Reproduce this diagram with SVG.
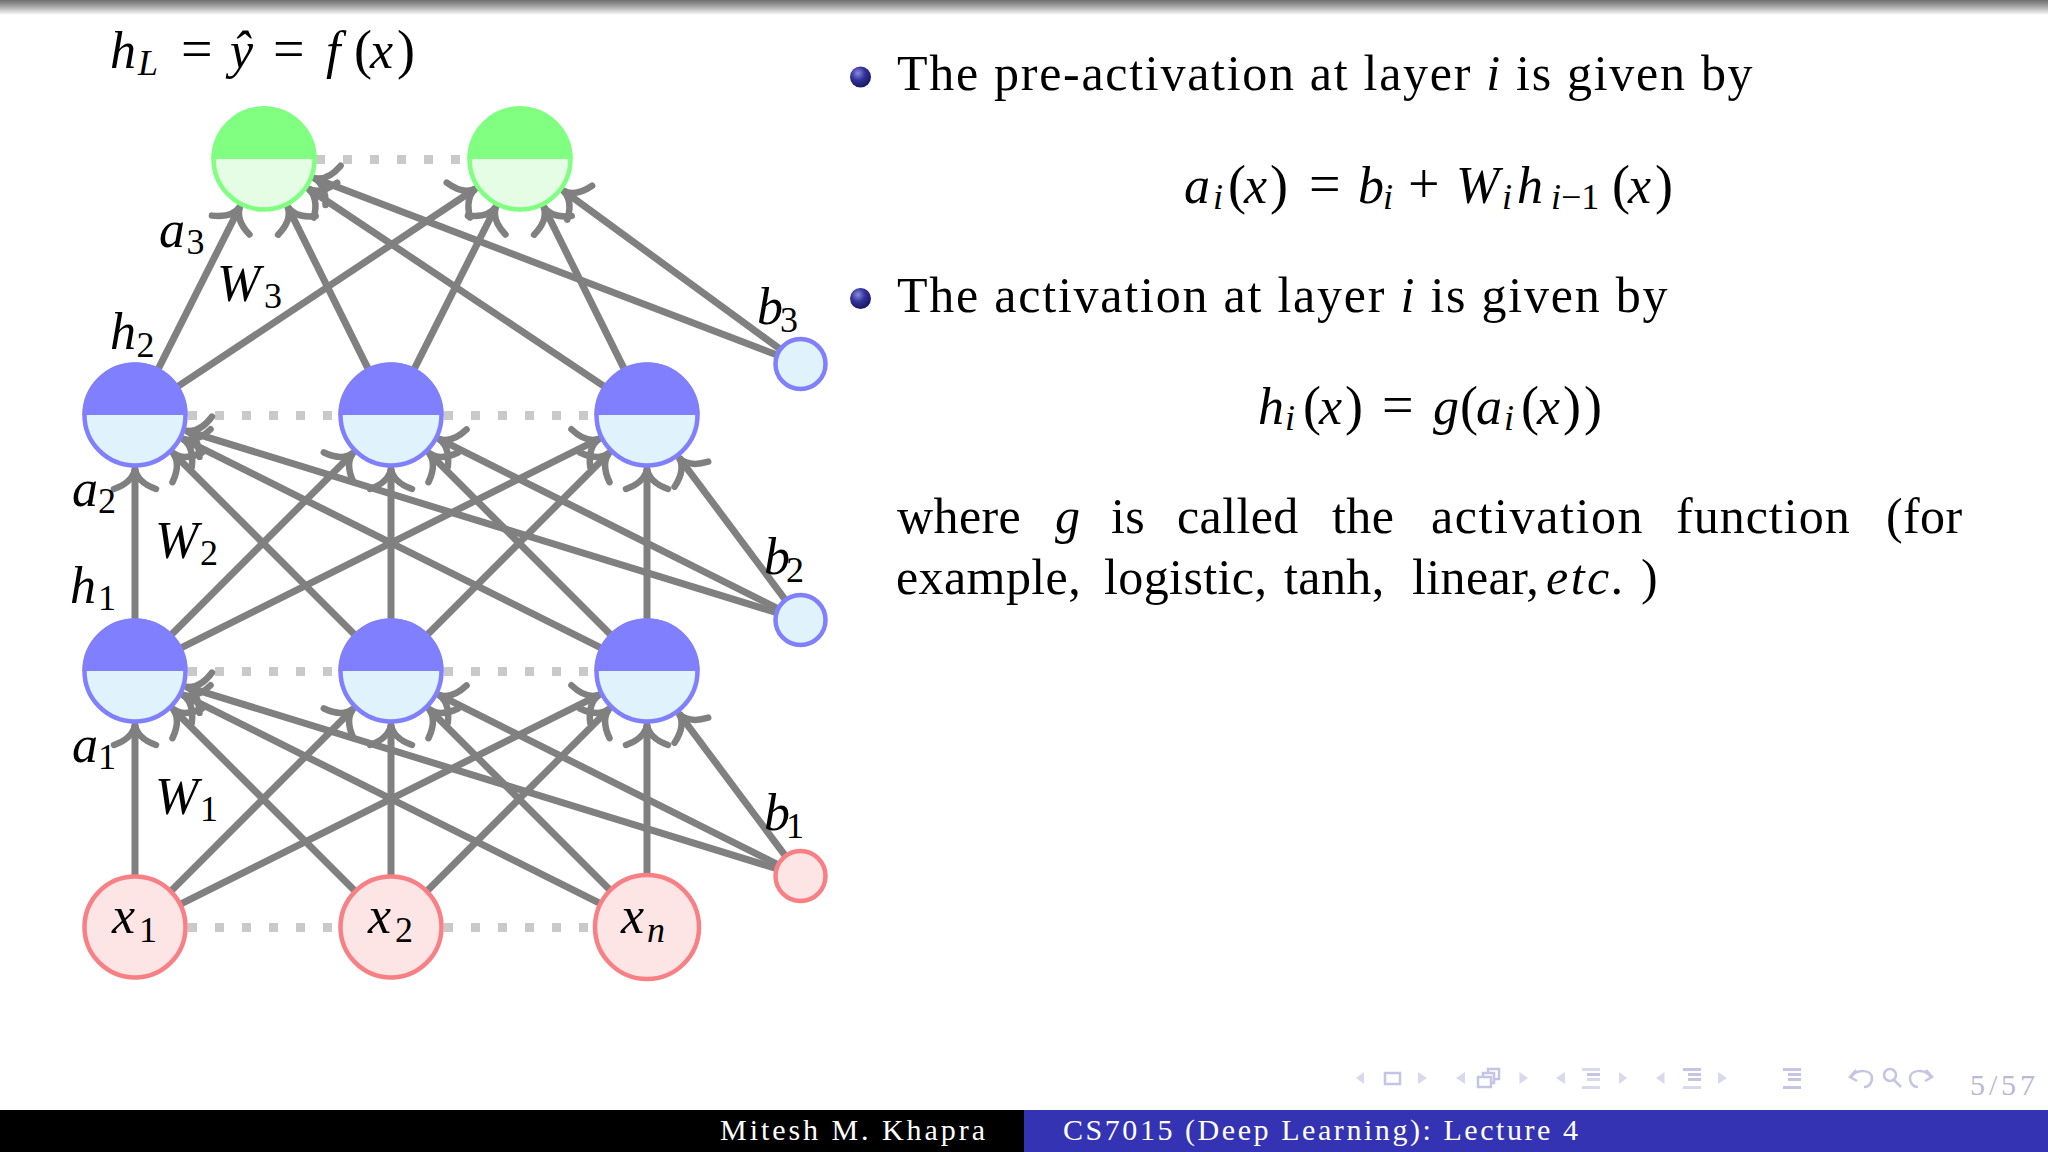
<svg xmlns="http://www.w3.org/2000/svg" width="2048" height="1152" viewBox="0 0 2048 1152">
<style>
text{font-family:"Liberation Serif","Times New Roman",serif;fill:#000}
.t{font-size:50px;letter-spacing:.4px}
.m{font-size:52px;font-style:italic}
.u{font-size:56px;font-style:normal}
.p{font-size:54px;font-style:normal}
.s{font-size:36px;font-style:normal}
.si{font-size:36px;font-style:italic}
.f{font-size:30px;fill:#fff}
.edge{stroke:#808080;stroke-width:7;fill:none;marker-end:url(#arr)}
.dot{stroke:#c9c9c9;stroke-width:9;stroke-dasharray:9 18;fill:none}
.blue .low{fill:#e0f2fb;stroke:#8080ff;stroke-width:4.500}.blue .top{fill:#8080ff}
.green .low{fill:#e5fce5;stroke:#80ff80;stroke-width:4.500}.green .top{fill:#80ff80}
.red .low{fill:#fde5e5;stroke:#f88085;stroke-width:4.500}
.nav{fill:#d8d8ee}.navl{fill:none;stroke:#c4c4e4;stroke-width:2.500}
.navb{fill:#c4c4e4}
</style>
<defs>
<linearGradient id="bar" x1="0" y1="0" x2="0" y2="1"><stop offset="0" stop-color="#6e6e6e"/><stop offset=".45" stop-color="#a8a8a8"/><stop offset="1" stop-color="#fff"/></linearGradient>
<radialGradient id="ball" cx=".38" cy=".32" r=".75"><stop offset="0" stop-color="#8a8ae0"/><stop offset=".45" stop-color="#33339a"/><stop offset="1" stop-color="#14145a"/></radialGradient>
<marker id="arr" markerUnits="userSpaceOnUse" markerWidth="60" markerHeight="60" refX="40" refY="30" orient="auto" viewBox="0 0 60 60" overflow="visible">
<path d="M20,9 Q27,28.500 41,30 Q27,31.500 20,51" fill="none" stroke="#808080" stroke-width="6.500" stroke-linecap="round" stroke-linejoin="round"/>
</marker>
</defs>
<rect width="2048" height="1152" fill="#fff"/>
<rect width="2048" height="15" fill="url(#bar)"/>

<g id="dots">
<line class="dot" x1="316" y1="159.500" x2="470" y2="159.500"/>
<line class="dot" x1="188" y1="415.500" x2="340" y2="415.500"/>
<line class="dot" x1="444" y1="415.500" x2="596" y2="415.500"/>
<line class="dot" x1="188" y1="671.500" x2="340" y2="671.500"/>
<line class="dot" x1="444" y1="671.500" x2="596" y2="671.500"/>
<line class="dot" x1="188" y1="927.500" x2="340" y2="927.500"/>
<line class="dot" x1="444" y1="927.500" x2="596" y2="927.500"/>
</g>

<g id="connectors">
<line class="edge" x1="135" y1="875" x2="135" y2="725"/>
<line class="edge" x1="171.8" y1="890.2" x2="352.8" y2="709.2"/>
<line class="edge" x1="181.5" y1="903.7" x2="598.7" y2="695.1"/>
<line class="edge" x1="354.2" y1="890.2" x2="173.2" y2="709.2"/>
<line class="edge" x1="391" y1="875" x2="391" y2="725"/>
<line class="edge" x1="427.8" y1="890.2" x2="608.8" y2="709.2"/>
<line class="edge" x1="600.5" y1="903.7" x2="183.3" y2="695.1"/>
<line class="edge" x1="610.2" y1="890.2" x2="429.2" y2="709.2"/>
<line class="edge" x1="647" y1="875" x2="647" y2="725"/>
<line class="edge" x1="775.2" y1="868.2" x2="186.6" y2="686.9"/>
<line class="edge" x1="776.8" y1="864.1" x2="439.3" y2="695.2"/>
<line class="edge" x1="784.6" y1="854.8" x2="679.4" y2="714.2"/>

<line class="edge" x1="135" y1="619" x2="135" y2="469"/>
<line class="edge" x1="171.8" y1="634.2" x2="352.8" y2="453.2"/>
<line class="edge" x1="181.5" y1="647.7" x2="598.7" y2="439.1"/>
<line class="edge" x1="354.2" y1="634.2" x2="173.2" y2="453.2"/>
<line class="edge" x1="391" y1="619" x2="391" y2="469"/>
<line class="edge" x1="427.8" y1="634.2" x2="608.8" y2="453.2"/>
<line class="edge" x1="600.5" y1="647.7" x2="183.3" y2="439.1"/>
<line class="edge" x1="610.2" y1="634.2" x2="429.2" y2="453.2"/>
<line class="edge" x1="647" y1="619" x2="647" y2="469"/>
<line class="edge" x1="775.2" y1="612.2" x2="186.6" y2="430.9"/>
<line class="edge" x1="776.8" y1="608.1" x2="439.3" y2="439.2"/>
<line class="edge" x1="784.6" y1="598.8" x2="679.4" y2="458.2"/>

<line class="edge" x1="158.4" y1="368.6" x2="239.7" y2="207.2"/>
<line class="edge" x1="367.9" y1="368.4" x2="288" y2="207.4"/>
<line class="edge" x1="603.8" y1="386.1" x2="308.9" y2="189"/>
<line class="edge" x1="178.3" y1="386.2" x2="475" y2="189"/>
<line class="edge" x1="414.4" y1="368.6" x2="495.7" y2="207.2"/>
<line class="edge" x1="623.9" y1="368.4" x2="544" y2="207.4"/>
<line class="edge" x1="775.7" y1="354.5" x2="314.4" y2="178.3"/>
<line class="edge" x1="779.1" y1="348.4" x2="563.6" y2="190.9"/>
</g>

<g id="g1" class="green"><circle class="low" cx="264" cy="159" r="50.500"/><path class="top" d="M211.500,159A52.500,52.500 0 0 1 316.500,159Z"/></g>
<g id="g2" class="green"><circle class="low" cx="520" cy="159" r="50.500"/><path class="top" d="M467.500,159A52.500,52.500 0 0 1 572.500,159Z"/></g>
<g id="h21" class="blue"><circle class="low" cx="135" cy="415" r="50.500"/><path class="top" d="M82.500,415A52.500,52.500 0 0 1 187.500,415Z"/></g>
<g id="h22" class="blue"><circle class="low" cx="391" cy="415" r="50.500"/><path class="top" d="M338.500,415A52.500,52.500 0 0 1 443.500,415Z"/></g>
<g id="h23" class="blue"><circle class="low" cx="647" cy="415" r="50.500"/><path class="top" d="M594.500,415A52.500,52.500 0 0 1 699.500,415Z"/></g>
<g id="h11" class="blue"><circle class="low" cx="135" cy="671" r="50.500"/><path class="top" d="M82.500,671A52.500,52.500 0 0 1 187.500,671Z"/></g>
<g id="h12" class="blue"><circle class="low" cx="391" cy="671" r="50.500"/><path class="top" d="M338.500,671A52.500,52.500 0 0 1 443.500,671Z"/></g>
<g id="h13" class="blue"><circle class="low" cx="647" cy="671" r="50.500"/><path class="top" d="M594.500,671A52.500,52.500 0 0 1 699.500,671Z"/></g>
<g id="x1" class="red"><circle class="low" cx="135" cy="927" r="50.500"/><text class="m" x="112" y="933">x<tspan class="s" x="139" y="942">1</tspan></text></g>
<g id="x2" class="red"><circle class="low" cx="391" cy="927" r="50.500"/><text class="m" x="368" y="933">x<tspan class="s" x="395" y="942">2</tspan></text></g>
<g id="xn" class="red"><circle class="low" cx="647" cy="927" r="52"/><text class="m" x="621" y="933">x<tspan class="si" x="647" y="942">n</tspan></text></g>
<g id="b3" class="blue"><circle class="low" cx="800.500" cy="364" r="25"/></g>
<g id="b2" class="blue"><circle class="low" cx="800.500" cy="620" r="25"/></g>
<g id="b1" class="red"><circle class="low" cx="800.500" cy="876" r="25"/></g>

<g id="labels">
<text class="m" x="110" y="67.500">h<tspan class="si" x="138" y="75">L</tspan><tspan class="u" x="181" y="67.500">=</tspan><tspan x="230">ŷ</tspan><tspan class="u" x="273">=</tspan><tspan x="326">f</tspan><tspan class="p" x="354">(</tspan><tspan x="370">x</tspan><tspan class="p" x="397">)</tspan></text>
<text class="m" x="159" y="247">a<tspan class="s" x="186.500" y="254">3</tspan></text>
<text class="m" x="217" y="301">W<tspan class="s" x="264" y="308">3</tspan></text>
<text class="m" x="110" y="349">h<tspan class="s" x="136.500" y="357">2</tspan></text>
<text class="m" x="757" y="324">b<tspan class="s" x="780" y="332">3</tspan></text>
<text class="m" x="72" y="506">a<tspan class="s" x="98" y="513">2</tspan></text>
<text class="m" x="155" y="558">W<tspan class="s" x="200" y="565">2</tspan></text>
<text class="m" x="70" y="603">h<tspan class="s" x="98" y="610">1</tspan></text>
<text class="m" x="764" y="574">b<tspan class="s" x="786" y="582">2</tspan></text>
<text class="m" x="72" y="762">a<tspan class="s" x="98" y="769">1</tspan></text>
<text class="m" x="155" y="814">W<tspan class="s" x="200" y="821">1</tspan></text>
<text class="m" x="764" y="830">b<tspan class="s" x="786" y="838">1</tspan></text>
</g>

<g id="content">
<circle cx="860.500" cy="77" r="10.500" fill="url(#ball)"/>
<text class="t" x="897" y="90" textLength="856">The pre-activation at layer <tspan font-style="italic">i</tspan> is given by</text>
<text class="m" x="1184" y="202.500">a<tspan class="si" x="1213" y="208.500">i</tspan><tspan class="p" x="1228" y="202.500">(</tspan><tspan x="1244">x</tspan><tspan class="p" x="1270">)</tspan><tspan class="u" x="1309">=</tspan><tspan x="1358">b</tspan><tspan class="si" x="1383" y="208.500">i</tspan><tspan class="u" x="1408" y="202.500">+</tspan><tspan x="1456">W</tspan><tspan class="si" x="1502" y="208.500">i</tspan><tspan x="1517" y="202.500">h</tspan><tspan class="si" x="1551" y="208.500">i</tspan><tspan class="s" x="1561" y="208.500">−1</tspan><tspan class="p" x="1612" y="202.500">(</tspan><tspan x="1628">x</tspan><tspan class="p" x="1655">)</tspan></text>
<circle cx="860.500" cy="298.500" r="10.500" fill="url(#ball)"/>
<text class="t" x="897" y="311.500" textLength="771">The activation at layer <tspan font-style="italic">i</tspan> is given by</text>
<text class="m" x="1258" y="423.500">h<tspan class="si" x="1285" y="429.500">i</tspan><tspan class="p" x="1303" y="423.500">(</tspan><tspan x="1319">x</tspan><tspan class="p" x="1345">)</tspan><tspan class="u" x="1382">=</tspan><tspan x="1433">g</tspan><tspan class="p" x="1460">(</tspan><tspan x="1476">a</tspan><tspan class="si" x="1504" y="429.500">i</tspan><tspan class="p" x="1521" y="423.500">(</tspan><tspan x="1537">x</tspan><tspan class="p" x="1563">)</tspan><tspan class="p" x="1584">)</tspan></text>
<text class="t" y="533"><tspan x="897">where</tspan><tspan x="1055" font-style="italic">g</tspan><tspan x="1111">is</tspan><tspan x="1177">called</tspan><tspan x="1332">the</tspan><tspan x="1431" letter-spacing="1.600">activation</tspan><tspan x="1676" letter-spacing="1">function</tspan><tspan x="1886">(for</tspan></text>
<text class="t" y="594"><tspan x="896">example,</tspan><tspan x="1104">logistic,</tspan><tspan x="1284">tanh,</tspan><tspan x="1412">linear,</tspan><tspan x="1546" font-style="italic" letter-spacing="2.500">etc.</tspan><tspan font-style="normal" x="1641">)</tspan></text>
</g>

<g id="footer">
<rect x="0" y="1110" width="1024" height="42" fill="#000"/>
<rect x="1024" y="1110" width="1024" height="42" fill="#3333b3"/>
<text class="f" x="720" y="1140" textLength="265">Mitesh M. Khapra</text>
<text class="f" x="1063" y="1140" textLength="515">CS7015 (Deep Learning): Lecture 4</text>
</g>

<g id="nav">
<path class="nav" d="M1364,1072V1084L1356,1078Z"/>
<rect class="navl" x="1385" y="1073" width="15" height="11"/>
<path class="nav" d="M1418,1072V1084L1427,1078Z"/>
<path class="nav" d="M1465,1072V1084L1456,1078Z"/>
<rect class="navl" x="1488" y="1069" width="11" height="10"/>
<rect class="navl" x="1483" y="1073" width="11" height="10" style="fill:#fff"/>
<rect class="navl" x="1478" y="1077" width="13" height="10" style="fill:#fff"/>
<path class="nav" d="M1519.500,1072V1084L1528,1078Z"/>
<path class="nav" d="M1565,1072V1084L1556,1078Z"/>
<rect class="nav" x="1582" y="1068" width="18" height="3"/><rect class="navb" x="1587" y="1073" width="13" height="3"/><rect class="nav" x="1587" y="1078" width="13" height="3"/><rect class="nav" x="1582" y="1086" width="18" height="3"/>
<path class="nav" d="M1619,1072V1084L1627,1078Z"/>
<path class="nav" d="M1664.500,1072V1084L1656,1078Z"/>
<rect class="navb" x="1683" y="1068" width="18" height="3"/><rect class="navb" x="1688" y="1073" width="13" height="3"/><rect class="navb" x="1688" y="1078" width="13" height="3"/><rect class="nav" x="1683" y="1086" width="18" height="3"/>
<path class="nav" d="M1718,1072V1084L1727,1078Z"/>
<rect class="navb" x="1783" y="1068" width="18" height="3"/><rect class="navb" x="1788" y="1073" width="13" height="3"/><rect class="navb" x="1788" y="1078" width="13" height="3"/><rect class="navb" x="1783" y="1086" width="18" height="3"/>
<path class="navl" d="M1856,1070L1850,1077L1857,1081M1851,1077C1858,1068 1872,1070 1872,1078C1872,1084 1868,1087 1864,1087"/>
<circle class="navl" cx="1890" cy="1075" r="6"/><path class="navl" d="M1894,1080L1901,1087"/>
<path class="navl" d="M1926,1070L1932,1077L1925,1081M1931,1077C1924,1068 1910,1070 1910,1078C1910,1084 1914,1087 1918,1087"/>
<text x="1970" y="1095" font-size="30" textLength="65" style="fill:#b8b8d8">5/57</text>
</g>
</svg>
